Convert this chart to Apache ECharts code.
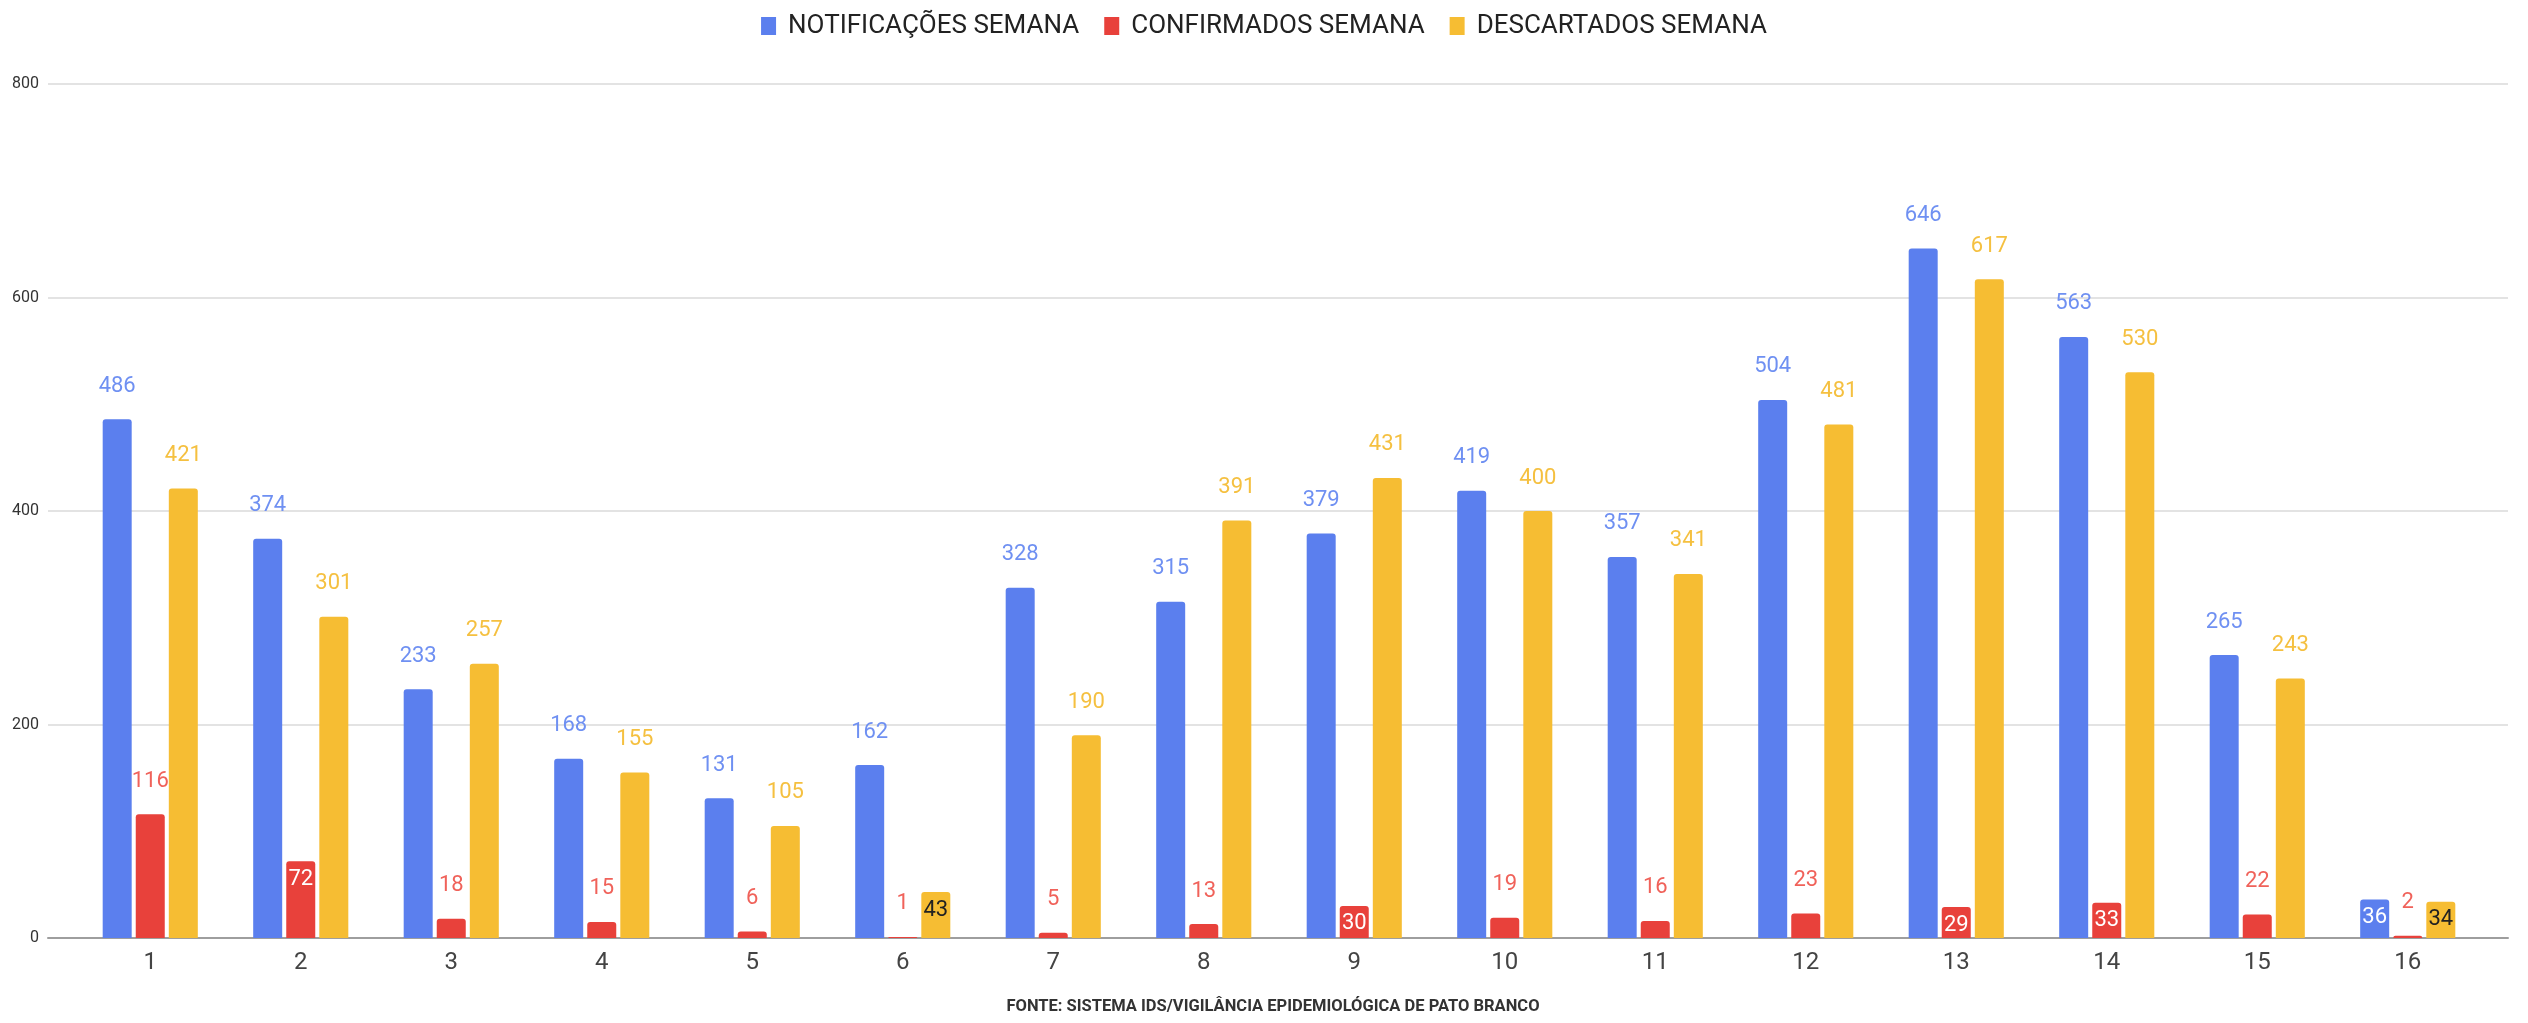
<!DOCTYPE html>
<html>
<head>
<meta charset="utf-8">
<script src="https://cdn.jsdelivr.net/npm/echarts@6/dist/echarts.min.js"></script>
<style>
  html, body { margin: 0; padding: 0; background: #fff; }
  #chart { width: 2528px; height: 1023px; }
</style>
</head>
<body>
<div id="chart"></div>
<script>
var semanas = ['1', '2', '3', '4', '5', '6', '7', '8', '9', '10', '11', '12', '13', '14', '15', '16']
var notificacoes = [486, 374, 233, 168, 131, 162, 328, 315, 379, 419, 357, 504, 646, 563, 265, 36]
var confirmados = [116, 72, 18, 15, 6, 1, 5, 13, 30, 19, 16, 23, 29, 33, 22, 2]
var descartados = [421, 301, 257, 155, 105, 43, 190, 391, 431, 400, 341, 481, 617, 530, 243, 34]

// which labels sit inside the bar (index into the arrays above)
var dentroNotif = [15]
var dentroConf = [1, 8, 12, 13]
var dentroDesc = [5, 15]

var chart = echarts.init(document.getElementById('chart'))

function serie (name, data, color, labelColor, dentro, dentroColor) {
  return {
    name: name,
    type: 'bar',
    xAxisIndex: 1,
    yAxisIndex: 1,
    barWidth: 29,
    barGap: '14%',
    itemStyle: { color: color, borderRadius: [3, 3, 0, 0] },
    label: {
      show: true,
      position: 'top',
      distance: 22,
      color: labelColor,
      fontSize: 22,
      fontFamily: 'Roboto'
    },
    data: data.map(function (v, i) {
      if (dentro.indexOf(i) < 0) return v
      return { value: v, label: { position: 'insideTop', distance: 7, color: dentroColor } }
    })
  }
}

var option = {
  animation: false,
  backgroundColor: '#fff',
  legend: {
    top: 8,
    left: 'center',
    itemWidth: 15,
    itemHeight: 18,
    itemGap: 25,
    icon: 'rect',
    textStyle: { fontSize: 26, fontFamily: 'Roboto', color: '#222', padding: [0, 0, 0, 7] }
  },
  grid: [
    { left: 48, right: 20, top: 84, bottom: 85 },
    { left: 75, right: 45, top: 84, bottom: 85 }
  ],
  xAxis: [
    {
      gridIndex: 0,
      type: 'value',
      min: 0,
      max: 1,
      axisLine: { show: true, lineStyle: { color: '#9e9e9e', width: 2 } },
      axisTick: { show: false },
      axisLabel: { show: false },
      splitLine: { show: false }
    },
    {
      gridIndex: 1,
      type: 'category',
      data: semanas,
      axisLine: { show: false },
      axisTick: { show: false },
      axisLabel: { fontSize: 24, fontFamily: 'Roboto', color: '#444', margin: 13 }
    }
  ],
  yAxis: [
    {
      gridIndex: 0,
      type: 'value',
      min: 0,
      max: 800,
      interval: 200,
      axisLine: { show: false },
      axisTick: { show: false },
      axisLabel: { fontSize: 16, fontFamily: 'Roboto', color: '#333', margin: 9 },
      splitLine: { lineStyle: { color: '#e3e3e3', width: 2 } }
    },
    {
      gridIndex: 1,
      type: 'value',
      min: 0,
      max: 800,
      show: false
    }
  ],
  graphic: [
    {
      type: 'text',
      x: 1273,
      y: 1007,
      style: {
        text: 'FONTE: SISTEMA IDS/VIGILÂNCIA EPIDEMIOLÓGICA DE PATO BRANCO',
        fontSize: 16.5,
        fontWeight: 'bold',
        fontFamily: 'Roboto',
        fill: '#333',
        textAlign: 'center',
        textVerticalAlign: 'middle'
      }
    }
  ],
  series: [
    serie('NOTIFICAÇÕES SEMANA', notificacoes, '#5b7fee', '#6f90f2', dentroNotif, '#fff'),
    serie('CONFIRMADOS SEMANA', confirmados, '#e8413b', '#f0625a', dentroConf, '#fff'),
    serie('DESCARTADOS SEMANA', descartados, '#f6bd33', '#f5c040', dentroDesc, '#222')
  ]
}
chart.setOption(option)
</script>
</body>
</html>
